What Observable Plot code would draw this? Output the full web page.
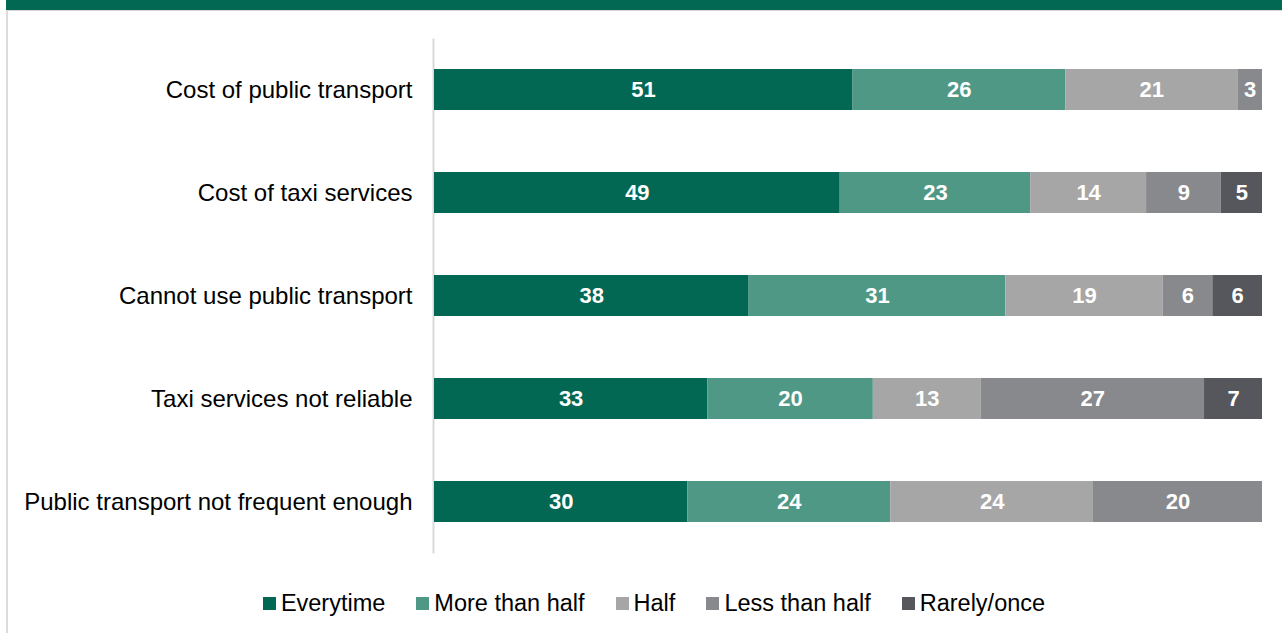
<!DOCTYPE html>
<html>
<head>
<meta charset="utf-8">
<script src="https://cdn.jsdelivr.net/npm/d3@7"></script>
<script src="https://cdn.jsdelivr.net/npm/@observablehq/plot@0.6"></script>
<style>
  html, body { margin: 0; padding: 0; background: #fff; }
  body { width: 1282px; height: 633px; position: relative; overflow: hidden; font-family: "Liberation Sans", Arial, sans-serif; }
  #band { position: absolute; left: 6px; top: 0; width: 1276px; height: 10px; background: #026853; }
  #bandline { position: absolute; left: 6px; top: 10px; width: 1276px; height: 1px; background: #d6d6d6; }
  #leftline { position: absolute; left: 6px; top: 10px; width: 2px; height: 623px; background: #dcdcdc; }
  #chart { position: absolute; left: 0; top: 11px; }
  #legend { position: absolute; left: 0; top: 590px; width: 1282px; display: flex; justify-content: center; padding-left: 26px; box-sizing: border-box; font-size: 23.5px; color: #000; }
  .item { display: flex; align-items: center; margin-right: 31px; }
  .item:last-child { margin-right: 0; }
  .sw { width: 13px; height: 13px; margin-right: 5px; }
</style>
</head>
<body>
<div id="band"></div>
<div id="bandline"></div>
<div id="leftline"></div>
<div id="chart"></div>
<div id="legend"></div>
<script>
const categories = [
  "Cost of public transport",
  "Cost of taxi services",
  "Cannot use public transport",
  "Taxi services not reliable",
  "Public transport not frequent enough"
];
const seriesNames = ["Everytime", "More than half", "Half", "Less than half", "Rarely/once"];
const seriesColors = ["#026853", "#4f9886", "#a6a6a6", "#88898c", "#56575c"];
const everytime   = [51, 49, 38, 33, 30];
const moreThanHalf = [26, 23, 31, 20, 24];
const half        = [21, 14, 19, 13, 24];
const lessThanHalf = [3, 9, 6, 27, 20];
const rarelyOnce  = [0, 5, 6, 7, 0];

const seriesValues = [everytime, moreThanHalf, half, lessThanHalf, rarelyOnce];
const data = [];
categories.forEach((c, i) => {
  seriesNames.forEach((s, j) => {
    const v = seriesValues[j][i];
    if (v > 0) data.push({category: c, series: s, value: v});
  });
});

const stackOpts = {x: "value", y: "category", fill: "series", order: seriesNames, offset: "normalize"};

const chart = Plot.plot({
  width: 1282,
  height: 560,
  marginLeft: 434,
  marginRight: 20,
  marginTop: 27.5,
  marginBottom: 17.5,
  style: {fontFamily: "'Liberation Sans', Arial, sans-serif", fontSize: "24px", background: "transparent"},
  x: {axis: null, domain: [0, 1]},
  y: {domain: categories, paddingInner: 0.6, paddingOuter: 0.3, label: null, tickSize: 0, tickPadding: 22},
  color: {domain: seriesNames, range: seriesColors},
  marks: [
    Plot.ruleX([0], {stroke: "#d9d9d9", strokeWidth: 2, dx: -1}),
    Plot.barX(data, stackOpts),
    Plot.text(data, Plot.stackX({...stackOpts, text: d => d.value, fill: "white", fontWeight: "bold", fontSize: 22, z: "series"}))
  ]
});
chart.querySelectorAll('g[aria-label="y-axis tick label"] text').forEach(t => t.setAttribute("fill", "#000"));
document.getElementById("chart").appendChild(chart);

const legend = document.getElementById("legend");
seriesNames.forEach((s, j) => {
  const item = document.createElement("div");
  item.className = "item";
  const sw = document.createElement("div");
  sw.className = "sw";
  sw.style.background = seriesColors[j];
  const label = document.createElement("span");
  label.textContent = s;
  item.appendChild(sw);
  item.appendChild(label);
  legend.appendChild(item);
});
</script>
</body>
</html>
